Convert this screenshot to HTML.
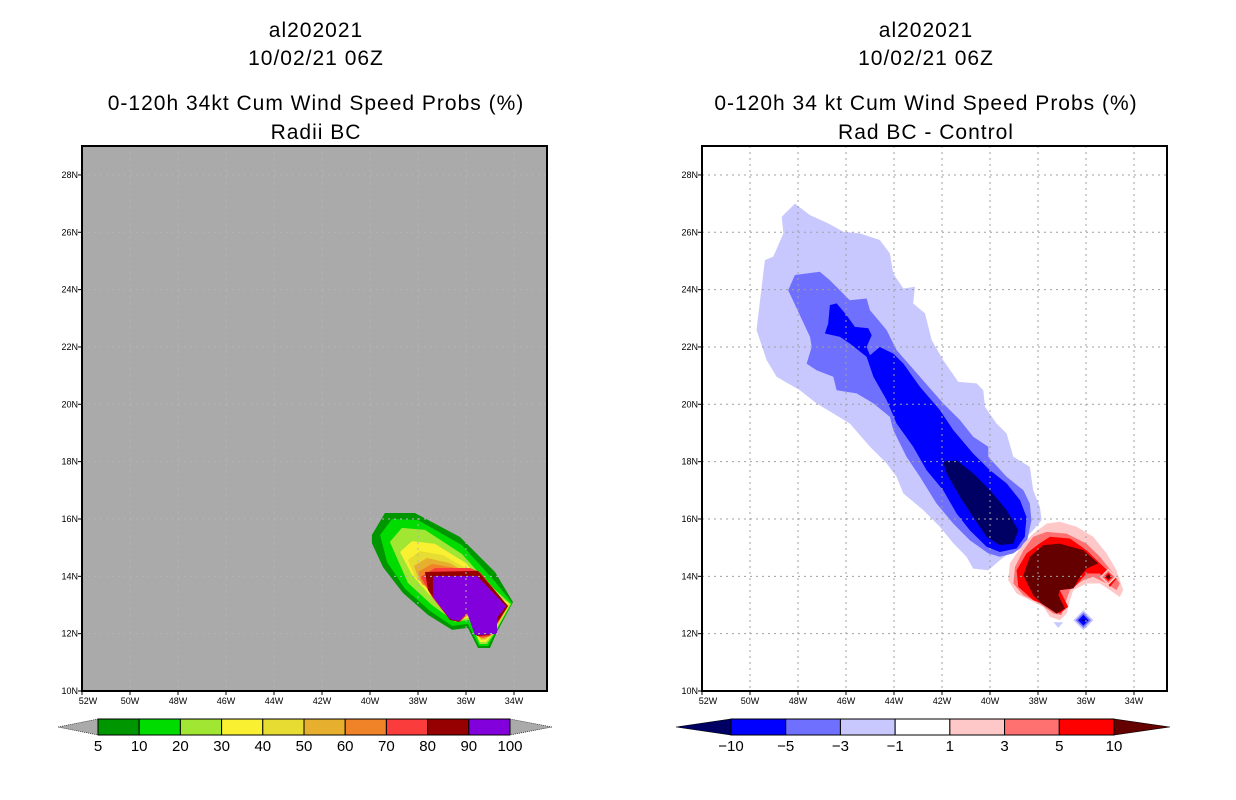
<!DOCTYPE html>
<html><head><meta charset="utf-8"><style>
html,body{margin:0;padding:0;background:#fff;}
svg{display:block;font-family:"Liberation Sans",sans-serif;}
.t{font-size:21px;fill:#000;text-anchor:middle;letter-spacing:1px}
.tk{font-size:9px;fill:#000}
.cb{font-size:15px;fill:#000;text-anchor:middle}
</style></head><body>
<svg id="s" width="1236" height="800" viewBox="0 0 1236 800">
<rect width="1236" height="800" fill="#fff"/>
<g>
<text class="t" x="316" y="37">al202021</text>
<text class="t" x="316" y="65">10/02/21 06Z</text>
<text class="t" x="316" y="110">0-120h 34kt Cum Wind Speed Probs (%)</text>
<text class="t" x="316" y="139">Radii BC</text>
</g>
<g>
<text class="t" x="926" y="37">al202021</text>
<text class="t" x="926" y="65">10/02/21 06Z</text>
<text class="t" x="926" y="110">0-120h 34 kt Cum Wind Speed Probs (%)</text>
<text class="t" x="926" y="139">Rad BC - Control</text>
</g>
<g id="left"></g>
<g id="right"></g>
<g id="cbl"></g>
<g id="cbr"></g>
</svg>
<script>
// ---- data ----
const lonTicks=[52,50,48,46,44,42,40,38,36,34];
const latTicks=[10,12,14,16,18,20,22,24,26,28];
const leftLevels=[5,10,20,30,40,50,60,70,80,90,100];
const leftColors=["#009600","#00dc00","#a0e632","#faf032","#e6dc32","#e6af2d","#f08228","#fa3c3c","#960000","#8200dc"];
const L5=[[39.92,15.44],[39.38,16.21],[38.13,16.21],[36.25,15.37],[34.79,14.15],[34.04,13.10],[34.71,12.06],[35.0,11.5],[35.5,11.5],[35.92,12.2],[36.58,12.13],[37.58,12.65],[38.63,13.42],[39.46,14.32],[39.92,15.16]];
const L10=[[39.58,15.44],[39.08,16.0],[38.0,15.96],[36.17,15.09],[34.92,13.94],[34.08,13.07],[34.79,12.02],[35.08,11.57],[35.46,11.57],[35.92,12.34],[36.58,12.27],[37.5,12.79],[38.54,13.56],[39.29,14.5]];
const L20=[[39.17,15.2],[38.67,15.69],[37.71,15.62],[36.17,14.78],[35.04,13.73],[34.13,13.03],[34.83,11.99],[35.13,11.64],[35.42,11.64],[35.88,12.48],[36.46,12.41],[37.42,13.0],[38.42,13.77]];
const L30=[[38.75,14.85],[38.25,15.23],[37.29,15.13],[36.0,14.46],[35.13,13.59],[34.17,13.03],[34.88,11.99],[35.17,11.71],[35.42,11.71],[35.88,12.55],[36.42,12.48],[37.33,13.17],[38.25,14.05]];
const L40=[[38.42,14.57],[37.92,14.88],[36.96,14.74],[35.83,14.19],[35.17,13.52],[34.21,13.0],[34.92,11.95],[35.21,11.78],[35.38,11.78],[35.83,12.62],[36.38,12.51],[37.25,13.28],[38.13,13.98]];
const L50=[[38.17,14.36],[37.63,14.64],[36.67,14.46],[35.67,13.98],[35.21,13.45],[34.21,13.0],[34.96,11.95],[35.21,11.81],[35.38,11.81],[35.83,12.65],[36.33,12.51],[37.21,13.35],[37.96,13.87]];
const L60=[[38.0,14.15],[37.42,14.43],[36.42,14.29],[35.5,13.87],[35.21,13.38],[34.25,12.96],[35.0,11.92],[35.25,11.85],[35.38,11.85],[35.83,12.69],[36.29,12.48],[37.17,13.42],[37.83,13.73]];
const L70=[[37.88,13.98],[37.29,14.29],[35.83,14.29],[35.42,14.15],[34.25,12.96],[35.0,11.92],[35.29,11.88],[35.46,11.88],[35.88,12.72],[36.25,12.41],[36.67,12.48],[37.42,13.28]];
const L80=[[37.71,14.15],[35.5,14.19],[34.25,12.96],[35.04,11.95],[35.54,11.92],[35.92,12.76],[36.29,12.41],[36.67,12.48],[37.58,13.52]];
const L90=[[37.38,14.01],[35.54,14.01],[34.33,12.96],[34.71,12.55],[34.71,11.99],[35.63,11.95],[35.96,12.72],[36.29,12.44],[36.67,12.51],[37.38,13.28]];
const rightLevels=[-10,-5,-3,-1,1,3,5,10];
const rightColors=["#000064","#0000ff","#7070ff","#c8c8ff","#ffffff","#ffc8c8","#ff7070","#ff0000","#640000"];
const Rm1=[[48.68,26.54],[48.13,27.0],[47.5,26.6],[46.74,26.31],[46.11,26.02],[45.42,25.96],[44.59,25.73],[44.17,25.26],[44.03,24.56],[43.61,24.04],[43.13,24.1],[43.2,23.52],[42.71,23.17],[42.43,22.24],[41.95,21.54],[41.32,20.78],[40.56,20.73],[40.28,20.49],[40.21,19.91],[39.73,19.33],[39.31,18.98],[39.03,18.17],[38.34,17.82],[38.2,17.0],[37.92,16.42],[37.85,15.96],[38.2,15.61],[39.03,14.91],[39.59,14.56],[40.07,14.21],[40.7,14.27],[40.98,14.68],[41.53,15.15],[42.09,15.73],[42.78,16.31],[43.61,16.89],[43.89,17.47],[44.31,17.94],[45.0,18.52],[45.84,19.33],[46.53,19.68],[47.23,20.03],[47.92,20.49],[48.89,20.96],[49.31,21.54],[49.73,22.59],[49.38,25.03],[49.03,25.15],[48.61,25.96]];
const Rm3=[[48.13,24.51],[47.09,24.62],[46.67,24.33],[45.84,23.63],[45.14,23.69],[45.0,23.28],[44.31,22.59],[43.89,21.89],[42.92,20.96],[42.43,20.49],[41.95,20.03],[41.25,19.45],[40.7,18.87],[40.07,18.52],[40.07,18.17],[39.31,17.47],[38.61,17.0],[38.34,16.54],[38.27,15.96],[38.48,15.14],[39.03,14.8],[39.59,14.68],[40.07,14.8],[40.84,15.26],[41.53,15.84],[42.23,16.54],[42.92,17.47],[43.48,18.17],[44.03,19.1],[44.17,19.56],[44.86,20.03],[45.56,20.38],[46.39,20.49],[46.53,20.96],[47.23,21.19],[47.64,21.42],[47.43,22.0],[47.5,22.35],[48.41,23.98]];
const Rm5=[[46.67,23.46],[46.39,23.52],[45.98,23.11],[45.63,22.7],[45.07,22.65],[44.93,22.41],[45.14,22.0],[45.0,21.71],[44.59,22.0],[44.03,21.77],[43.61,21.42],[42.92,20.61],[42.09,19.8],[41.53,19.1],[40.7,18.28],[40.0,17.7],[39.31,17.24],[38.75,16.66],[38.48,16.07],[38.55,15.38],[38.89,14.97],[39.59,14.85],[40.14,15.03],[40.84,15.61],[41.39,16.19],[41.95,17.0],[42.64,17.7],[43.2,18.52],[43.89,19.33],[44.31,20.15],[44.86,20.96],[45.14,21.66],[45.84,22.12],[46.25,22.35],[46.88,22.47],[46.74,22.82]];
const Rm10=[[41.95,18.0],[41.39,18.05],[40.7,17.59],[40.0,17.0],[39.31,16.31],[38.82,15.61],[39.03,15.14],[39.59,15.09],[40.14,15.38],[40.7,16.07],[41.25,16.77],[41.81,17.59]];
const Rp1=[[37.64,15.84],[37.09,15.9],[36.39,15.73],[35.7,15.38],[35.14,14.8],[34.73,14.21],[34.45,13.52],[34.59,13.28],[35.0,13.52],[35.42,13.75],[35.98,13.75],[36.53,13.52],[36.67,13.17],[36.81,12.7],[37.09,12.47],[37.5,12.59],[37.78,12.94],[38.34,13.17],[38.89,13.4],[39.24,13.87],[39.17,14.45],[38.61,15.14],[38.2,15.49]];
const Rp3=[[38.2,15.38],[37.64,15.55],[36.81,15.49],[35.98,15.14],[35.42,14.68],[34.86,14.1],[34.59,13.75],[34.73,13.52],[35.14,13.75],[35.7,13.98],[36.11,13.87],[36.67,13.52],[36.88,13.05],[37.02,12.65],[37.36,12.7],[37.92,13.05],[38.61,13.34],[39.03,13.75],[38.96,14.33],[38.61,14.91]];
const Rp5=[[37.92,15.15],[37.5,15.38],[36.67,15.32],[35.98,14.91],[35.42,14.45],[34.73,13.92],[35.0,13.63],[35.42,14.1],[35.98,14.1],[36.53,13.58],[37.09,13.52],[36.74,12.94],[37.09,12.7],[37.5,12.94],[38.2,13.17],[38.82,13.63],[38.89,14.21],[38.48,14.8]];
const Rp10=[[38.61,14.04],[38.34,14.68],[37.78,15.09],[37.09,15.14],[36.11,14.91],[35.49,14.45],[35.98,14.27],[36.25,13.98],[36.53,13.58],[37.09,13.52],[37.15,13.34],[36.88,12.88],[37.22,12.7],[37.85,13.05],[38.2,13.34]];
// diamonds: [lonW, lat, radiusDeg, colorIndex]
const diamonds=[[35.07,13.98,0.35,5],[35.07,13.98,0.26,6],[35.07,13.98,0.18,7],[35.07,13.98,0.1,8],
 [36.11,12.47,0.42,3],[36.11,12.47,0.32,2],[36.11,12.47,0.22,1],[36.11,12.47,0.06,0]];
const smallTri=[[37.35,12.4],[36.95,12.4],[37.16,12.2]];

// ---- axes ----
const PX0L=82, PX0R=702, PY0=691, SX=24, SY=28.67;
const xL=lon=>PX0L+(52-lon)*SX, xR=lon=>PX0R+(52-lon)*SX, yM=lat=>PY0-(lat-10)*SY;
const NS="http://www.w3.org/2000/svg";
function mk(tag,attrs,parent){const e=document.createElementNS(NS,tag);for(const k in attrs)e.setAttribute(k,attrs[k]);parent.appendChild(e);return e;}
function poly(pts,fx,color,parent,name){
 const e=mk('polygon',{points:pts.map(p=>fx(p[0]).toFixed(1)+','+yM(p[1]).toFixed(1)).join(' '),fill:color},parent);
 
 
}
function panel(g,fx,x0,bg){
 const W=465,H=545,top=146;
 const r=mk('rect',{x:x0,y:top,width:W,height:H,fill:bg},g);
 
 
}
function gridAndFrame(g,fx,x0,gridColor){
 const top=146,W=465,H=545;
 lonTicks.forEach(l=>{ if(l===52) return;
  const ln=mk('line',{x1:fx(l),x2:fx(l),y1:top,y2:top+H,stroke:gridColor,'stroke-width':1,'stroke-dasharray':'2,4'},g);
  
  
 });
 latTicks.forEach(l=>{ if(l===10) return;
  const ln=mk('line',{x1:x0,x2:x0+W,y1:yM(l),y2:yM(l),stroke:gridColor,'stroke-width':1,'stroke-dasharray':'2,4'},g);
  
  
 });
 const f=mk('rect',{x:x0,y:top,width:W,height:H,fill:'none',stroke:'#000','stroke-width':2},g);
 
 
 lonTicks.forEach(l=>{
  const tk=mk('line',{x1:fx(l),x2:fx(l),y1:top+H,y2:top+H+4,stroke:'#000'},g);
  
  
  const t=mk('text',{x:fx(l)+(l===52?6:0),y:top+H+13,class:'tk','text-anchor':'middle'},g);
  t.textContent=l+'W';
  
  
 });
 latTicks.forEach(l=>{
  const tk=mk('line',{x1:x0-4,x2:x0,y1:yM(l),y2:yM(l),stroke:'#000'},g);
  
  
  const t=mk('text',{x:x0-4,y:yM(l)+3,class:'tk','text-anchor':'end'},g);
  t.textContent=l+'N';
  
  
 });
}
// left
const gl=document.getElementById('left');
panel(gl,xL,PX0L,'#aaaaaa');
[L5,L10,L20,L30,L40,L50,L60,L70,L80,L90].forEach((p,i)=>poly(p,xL,leftColors[i],gl,'prob-contour-'+leftLevels[i]));
gridAndFrame(gl,xL,PX0L,'#b4b4b4');
// right
const gr=document.getElementById('right');
panel(gr,xR,PX0R,'#ffffff');
[[Rm1,3],[Rm3,2],[Rm5,1],[Rm10,0],[Rp1,5],[Rp3,6],[Rp5,7],[Rp10,8]].forEach(([p,c])=>poly(p,xR,rightColors[c],gr,'diff-contour-'+c));
poly(smallTri,xR,rightColors[3],gr,'diff-contour-small');
diamonds.forEach(d=>{
 const [lo,la,r,c]=d;
 poly([[lo+r,la],[lo,la+r*24/28.67],[lo-r,la],[lo,la-r*24/28.67]],xR,rightColors[c],gr,'diff-diamond');
});
gridAndFrame(gr,xR,PX0R,'#a0a0a0');

// colorbars
function colorbar(g,x0,x1,boxes,colors,labels,leftTriColor,rightTriColor,triL,triR){
 const y0=719,y1=735,ym=727;
 const n=colors.length, bw=(x1-x0)/n;
 const tl=mk('polygon',{points:`${x0-triL},${ym} ${x0},${y0} ${x0},${y1}`,fill:leftTriColor,stroke:'#000','stroke-width':0.6,'stroke-dasharray':boxes?'0':'1,1'},g);
 
 
 const tr=mk('polygon',{points:`${x1+triR},${ym} ${x1},${y0} ${x1},${y1}`,fill:rightTriColor,stroke:'#000','stroke-width':0.6,'stroke-dasharray':boxes?'0':'1,1'},g);
 
 
 colors.forEach((c,i)=>{
  const r=mk('rect',{x:x0+i*bw,y:y0,width:bw,height:y1-y0,fill:c,stroke:'#000','stroke-width':1},g);
  
  
 });
 labels.forEach((l,i)=>{
  const t=mk('text',{x:x0+i*bw,y:751,class:'cb'},g);
  t.textContent=String(l).replace('-','\u2212');
  
  
 });
}
colorbar(document.getElementById('cbl'),98,510,false,leftColors,leftLevels,'#aaaaaa','#aaaaaa',40,42);
colorbar(document.getElementById('cbr'),731,1114,true,rightColors.slice(1,8),rightLevels,rightColors[0],rightColors[8],55,56);
</script>
</body></html>
